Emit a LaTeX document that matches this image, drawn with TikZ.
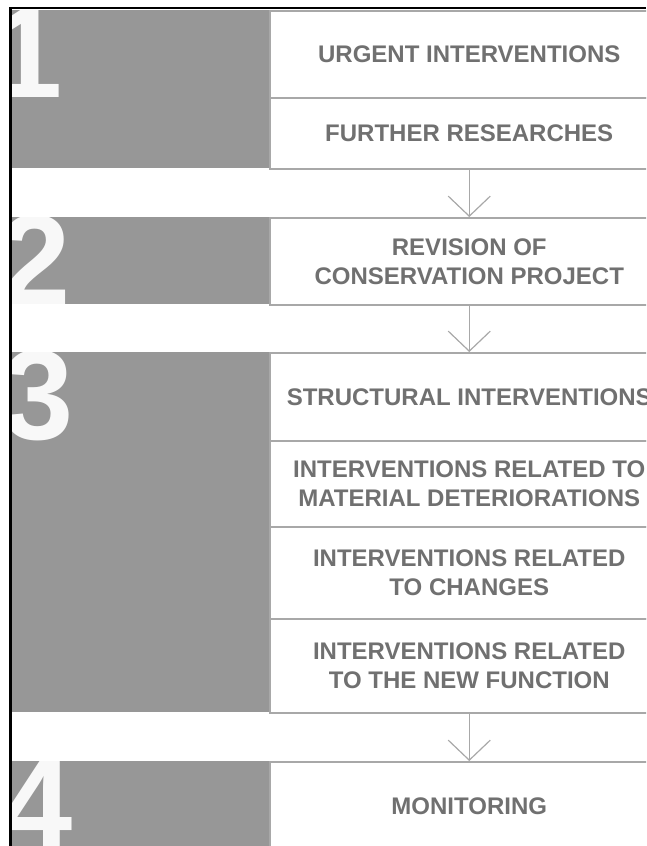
\documentclass[tikz,border=0pt]{standalone}
\usepackage{fontspec}
\setmainfont{Liberation Sans}
\usetikzlibrary{arrows.meta}

\definecolor{stagegray}{HTML}{979797}
\definecolor{linegray}{HTML}{A8A8A8}
\definecolor{textgray}{HTML}{707070}
\definecolor{digitwhite}{HTML}{F8F8F8}

\tikzset{
  digit/.style={anchor=base west,inner sep=0pt,minimum width=0pt,minimum height=0pt,
    fill=none,draw=none,text=digitwhite,
    font=\bfseries\fontsize{128}{128}\selectfont},
  stage/.style 2 args={fill=stagegray,minimum width=257pt,inner sep=0pt,anchor=north west,
    path picture={\node[digit] at ([xshift=#2,yshift=-87pt]path picture bounding box.north west) {#1};}},
  taskbox/.style={draw=linegray,line width=1.5pt,fill=white,minimum width=399pt,
    inner sep=0pt,anchor=north west,align=center,text=textgray,
    font=\bfseries\fontsize{24}{29}\selectfont},
  flow/.style={draw=linegray,line width=1.2pt,-{Straight Barb[length=20pt,width=42pt]}}
}

\begin{document}
\begin{tikzpicture}[x=1pt,y=-1pt]
  \useasboundingbox (0,0) rectangle (646,846);
  \clip (0,0) rectangle (646,846);
  % numbered grey stages
  \foreach \n/\top/\h/\dx in {1/10/158/-21,2/217/87/-13,3/352/360/-10,4/761/89/-11}
    \node[stage={\n}{\dx pt},minimum height=\h pt] (stage\n) at (12,\top) {};
  % stage 1
  \node[taskbox,minimum height=87pt] (urgent)  at (269,10) {URGENT INTERVENTIONS};
  \node[taskbox,minimum height=71pt] (further) at (269,97) {FURTHER RESEARCHES};
  % stage 2
  \node[taskbox,minimum height=87pt] (revision) at (269,217) {REVISION OF\\CONSERVATION PROJECT};
  % stage 3
  \node[taskbox,minimum height=88pt] (structural) at (269,352) {STRUCTURAL INTERVENTIONS};
  \node[taskbox,minimum height=86pt] (material)   at (269,440) {INTERVENTIONS RELATED TO\\MATERIAL DETERIORATIONS};
  \node[taskbox,minimum height=92pt] (changes)    at (269,526) {INTERVENTIONS RELATED\\TO CHANGES};
  \node[taskbox,minimum height=94pt] (function)   at (269,618) {INTERVENTIONS RELATED\\TO THE NEW FUNCTION};
  % stage 4
  \node[taskbox,minimum height=89pt] (monitoring) at (269,761) {MONITORING};
  % flow between stages
  \draw[flow] (further.south)  -- (revision.north);
  \draw[flow] (revision.south) -- (structural.north);
  \draw[flow] (function.south) -- (monitoring.north);
  % frame
  \draw[line width=2.5pt] (10.5,846) -- (10.5,8) -- (646,8);
\end{tikzpicture}
\end{document}
